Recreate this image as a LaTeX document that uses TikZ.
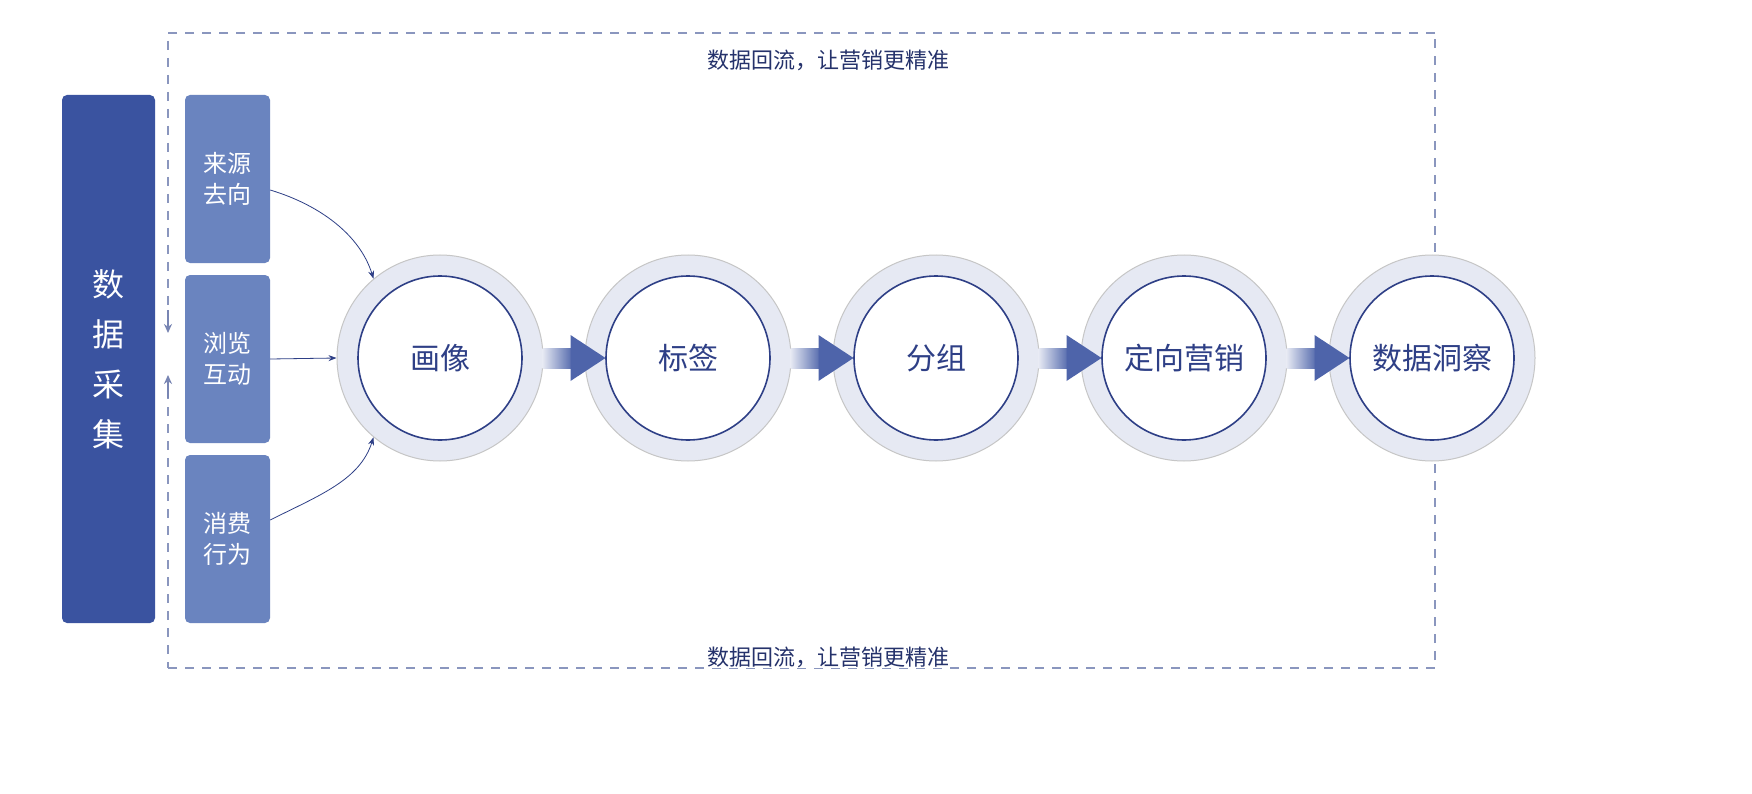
\documentclass[tikz,border=0pt]{standalone}
\usepackage{fontspec}
\setmainfont{Noto Sans CJK SC}
\usetikzlibrary{arrows.meta}
\definecolor{dk}{HTML}{3A53A0}
\definecolor{md}{HTML}{6A84BF}
\definecolor{ln}{HTML}{2E3F86}
\definecolor{ring}{HTML}{E6E9F3}
\definecolor{dash}{HTML}{8A96BE}
\tikzset{
 smallbox/.style={fill=md,rounded corners=5pt,minimum width=85pt,minimum height=168pt,text=white,font=\fontsize{24}{31}\selectfont,align=center},
 outer/.style={circle,fill=ring,draw=gray!45,line width=1pt,minimum size=206pt},
 inner/.style={circle,fill=white,draw=ln,line width=1.6pt,minimum size=164pt,text=ln,font=\fontsize{30}{36}\selectfont},
 conn/.style={draw=ln,line width=0.8pt,-{Stealth[length=8pt,width=6pt]}},
 dsh/.style={draw=dash,line width=1.6pt,dash pattern=on 9pt off 8pt},
}
\begin{document}
\begin{tikzpicture}[x=1pt,y=-1pt]
\useasboundingbox (0,0) rectangle (1752,794);
\fill[white] (0,0) rectangle (1752,794);
% dashed feedback frame
\coordinate (tl) at (168,33); \coordinate (tr) at (1435,33);
\coordinate (bl) at (168,668); \coordinate (br) at (1435,668);
\draw[dsh] (tr) -- (tl) -- (168,318);
\draw[dsh] (bl) -- (br) -- (tr);
\draw[dsh] (168,390) -- (bl);
\coordinate (la) at (168,310); \coordinate (lb) at (168,333);
\coordinate (lc) at (168,398); \coordinate (ld) at (168,375);
\draw[draw=dash!80!ln,line width=1.6pt,-{Stealth[length=9pt,width=8pt]}] (la) -- (lb);
\draw[draw=dash!80!ln,line width=1.6pt,-{Stealth[length=9pt,width=8pt]}] (lc) -- (ld);
\node[text=ln!80!black,font=\fontsize{22}{26}\selectfont] (ttop) at (828,60) {数据回流，让营销更精准};
\node[fill=white,inner sep=1pt,text=ln!80!black,font=\fontsize{22}{26}\selectfont] (tbot) at (828,657) {数据回流，让营销更精准};
% big box
\node[fill=dk,rounded corners=5pt,minimum width=93pt,minimum height=528pt,text=white,font=\fontsize{32}{50}\selectfont,align=center] (big) at (108.5,359) {数\\据\\采\\集};
\node[smallbox] (s1) at (227.5,179) {来源\\去向};
\node[smallbox] (s2) at (227.5,359) {浏览\\互动};
\node[smallbox] (s3) at (227.5,539) {消费\\行为};
% circles
\foreach \i/\x/\t in {1/440/画像,2/688/标签,3/936/分组,4/1184/定向营销,5/1432/数据洞察}{
  \node[outer] (o\i) at (\x,358) {};
  \node[inner] (c\i) at (\x,358) {\t};
}
% arrows between circles
\foreach \a/\b in {1/2,2/3,3/4,4/5}{
  \path (o\a.east) coordinate (p\a);
  \shade[left color=ring,right color=dk!85] ([xshift=-1pt,yshift=-10pt]p\a) rectangle ([xshift=28pt,yshift=10pt]p\a);
  \fill[dk!90] ([xshift=27pt,yshift=-23pt]p\a) -- ([xshift=62pt]p\a) -- ([xshift=27pt,yshift=23pt]p\a) -- cycle;
}
% connectors
\draw[conn] (s1.east |- 0,190) .. controls (320,205) and (360,235) .. (o1.130);
\draw[conn] (s2.east) -- (o1.west);
\draw[conn] (s3.east |- 0,520) .. controls (320,495) and (360,480) .. (o1.230);
\end{tikzpicture}
\end{document}
